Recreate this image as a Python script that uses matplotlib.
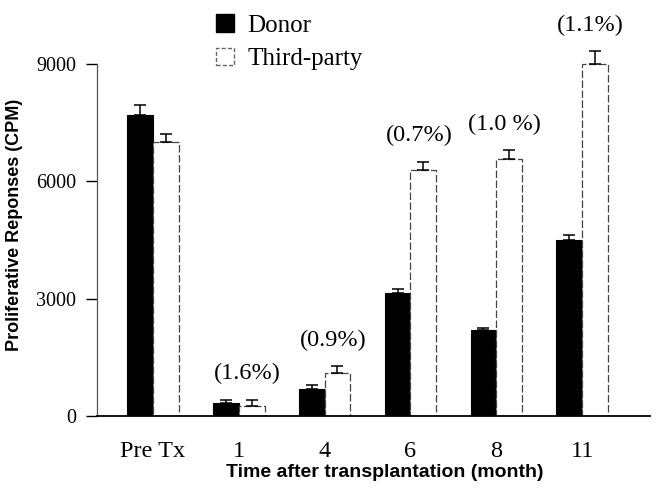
import matplotlib
matplotlib.use("Agg")
import matplotlib.pyplot as plt
import numpy as np
from matplotlib.patches import Patch

categories = ['Pre Tx', '1', '4', '6', '8', '11']
donor = [7700, 320, 700, 3150, 2200, 4500]
donor_err = [250, 100, 90, 100, 60, 130]
third = [7000, 250, 1100, 6300, 6580, 8990]
third_err = [200, 150, 170, 200, 220, 340]
pct_labels = ['', '(1.6%)', '(0.9%)', '(0.7%)', '(1.0 %)', '(1.1%)']
yticks = [0, 3000, 6000, 9000]

serif = ['Liberation Serif', 'DejaVu Serif']
sans = ['Liberation Sans', 'DejaVu Sans']

fig = plt.figure(figsize=(6.63, 4.94), dpi=100)
ax = fig.add_axes([97/663, 78/494, 553/663, 410.7/494])

x = np.arange(len(categories))
w = 0.30
ax.bar(x - w/2, donor, w, color='black', edgecolor='black', linewidth=0.8, zorder=2)
ax.bar(x + w/2, third, w, color='white', edgecolor='#444444', linewidth=0.9,
       linestyle=(0, (6, 2)), zorder=2)
ax.errorbar(x - w/2, donor, yerr=[np.zeros(len(donor)), donor_err], fmt='none',
            ecolor='black', elinewidth=1.1, capsize=4, capthick=1.1, zorder=3)
ax.errorbar(x + w/2, third, yerr=[np.zeros(len(third)), third_err], fmt='none',
            ecolor='black', elinewidth=1.1, capsize=4, capthick=1.1, zorder=3)

for i, lab in enumerate(pct_labels):
    if not lab:
        continue
    top = max(donor[i] + donor_err[i], third[i] + third_err[i])
    ax.annotate(lab, (x[i] + 0.1, top), xytext=(0, 11), textcoords='offset points',
                ha='center', va='bottom', fontsize=17.5, family=serif)

ax.set_xlim(-0.651, 5.79)
ax.set_ylim(0, 10500)
for s in ['top', 'right']:
    ax.spines[s].set_visible(False)
ax.spines['left'].set_bounds(0, 9000)
ax.spines['left'].set_color('#555555')
ax.spines['left'].set_linewidth(0.9)
ax.spines['bottom'].set_linewidth(1.3)

ax.set_yticks(yticks)
ax.set_yticklabels([str(v) for v in yticks], fontsize=14.5, family=serif)
ax.tick_params(axis='y', length=8, width=1, pad=7)
ax.set_xticks(x)
ax.set_xticklabels(categories, fontsize=17.5, family=serif)
ax.tick_params(axis='x', length=0, pad=18)

ax.set_xlabel('Time after transplantation (month)', fontsize=14, fontweight='bold', family=sans)
ax.xaxis.set_label_coords(0.521, -0.117)
ax.set_ylabel('Proliferative Reponses (CPM)', fontsize=13, fontweight='bold', family=sans)
ax.yaxis.set_label_coords(-0.134, 0.465)

handles = [Patch(facecolor='black', edgecolor='black', label='Donor'),
           Patch(facecolor='white', edgecolor='#666666', linestyle=(0, (3, 1.5)), label='Third-party')]
fig.legend(handles=handles, loc='upper left', bbox_to_anchor=(203/663, 1 - 2/494),
           frameon=False, borderpad=0, handlelength=0.72, handleheight=0.72,
           handletextpad=0.55, labelspacing=0.42, prop={'family': serif, 'size': 18})

fig.savefig('out.png', dpi=100)
